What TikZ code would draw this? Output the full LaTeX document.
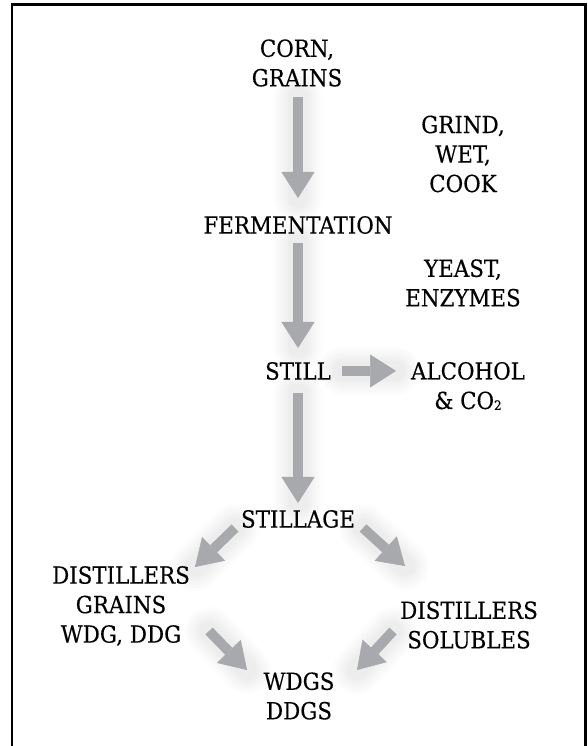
\documentclass[tikz,border=0pt]{standalone}
\usepackage{fontspec}
\setmainfont{DejaVu Serif}[FakeStretch=0.91,FakeBold=0.35]
\usetikzlibrary{arrows.meta,backgrounds}
\definecolor{arrowgray}{HTML}{A7A9AC}
\begin{document}
\begin{tikzpicture}[x=1pt,y=1pt,
  lbl/.style={align=center, inner sep=0pt, text=black,
    font=\fontsize{23.5}{29.5}\selectfont},
  glow/.style={
    preaction={draw=black, opacity=0.012, line width=48pt, line cap=round, arrows=-},
    preaction={draw=black, opacity=0.012, line width=42pt, line cap=round, arrows=-},
    preaction={draw=black, opacity=0.012, line width=36pt, line cap=round, arrows=-},
    preaction={draw=black, opacity=0.012, line width=30pt, line cap=round, arrows=-},
    preaction={draw=black, opacity=0.012, line width=25pt, line cap=round, arrows=-},
    preaction={draw=black, opacity=0.012, line width=20pt, line cap=round, arrows=-}},
  blk/.style={glow, draw=arrowgray, line width=10pt,
    -{Triangle[width=33pt,length=26pt,line width=0.5pt]}}]
\useasboundingbox (0,0) rectangle (587,746);
\draw[line width=2.6pt] (11.8,-3) -- (11.8,741.5) -- (585.5,741.5) -- (585.5,-3);

\node[lbl] (corn) at (297,683) {CORN,\\GRAINS};
\node[lbl] (grind) at (463,592) {GRIND,\\WET,\\COOK};
\node[lbl] (ferm) at (298,521) {FERMENTATION};
\node[lbl] (yeast) at (463,463) {YEAST,\\ENZYMES};
\node[lbl] (still) at (298,375) {STILL};
\node[lbl] (alc) at (468,360) {ALCOHOL\\\& CO\raisebox{-1pt}{\fontsize{13}{13}\selectfont 2}};
\node[lbl] (stillage) at (298,227) {STILLAGE};
\node[lbl] (dgrains) at (121,140) {DISTILLERS\\GRAINS\\WDG, DDG};
\node[lbl] (dsol) at (469,121) {DISTILLERS\\SOLUBLES};
\node[lbl] (wdgs) at (299,50) {WDGS\\DDGS};

\begin{pgfonlayer}{background}
\draw[blk, shorten <=34pt, shorten >=27pt] (corn.center -| ferm.center) -- (ferm.center);
\draw[blk, shorten <=18pt, shorten >=23pt] (ferm.center) -- (still.center);
\draw[blk, shorten <=44pt, shorten >=72pt] (still.center) -- (still.center -| alc.center);
\draw[blk, shorten <=22pt, shorten >=16pt] (still.center) -- (stillage.center);
\draw[blk] ([shift={(-63,-9)}]stillage.center) -- ([shift={(74,39)}]dgrains.center);
\draw[blk] ([shift={(65,-9)}]stillage.center) -- ([shift={(-64,59)}]dsol.center);
\draw[blk] ([shift={(88,-25)}]dgrains.center) -- ([shift={(-52,26)}]wdgs.center);
\draw[blk] ([shift={(-76,-6)}]dsol.center) -- ([shift={(58,26)}]wdgs.center);
\end{pgfonlayer}
\end{tikzpicture}
\end{document}
